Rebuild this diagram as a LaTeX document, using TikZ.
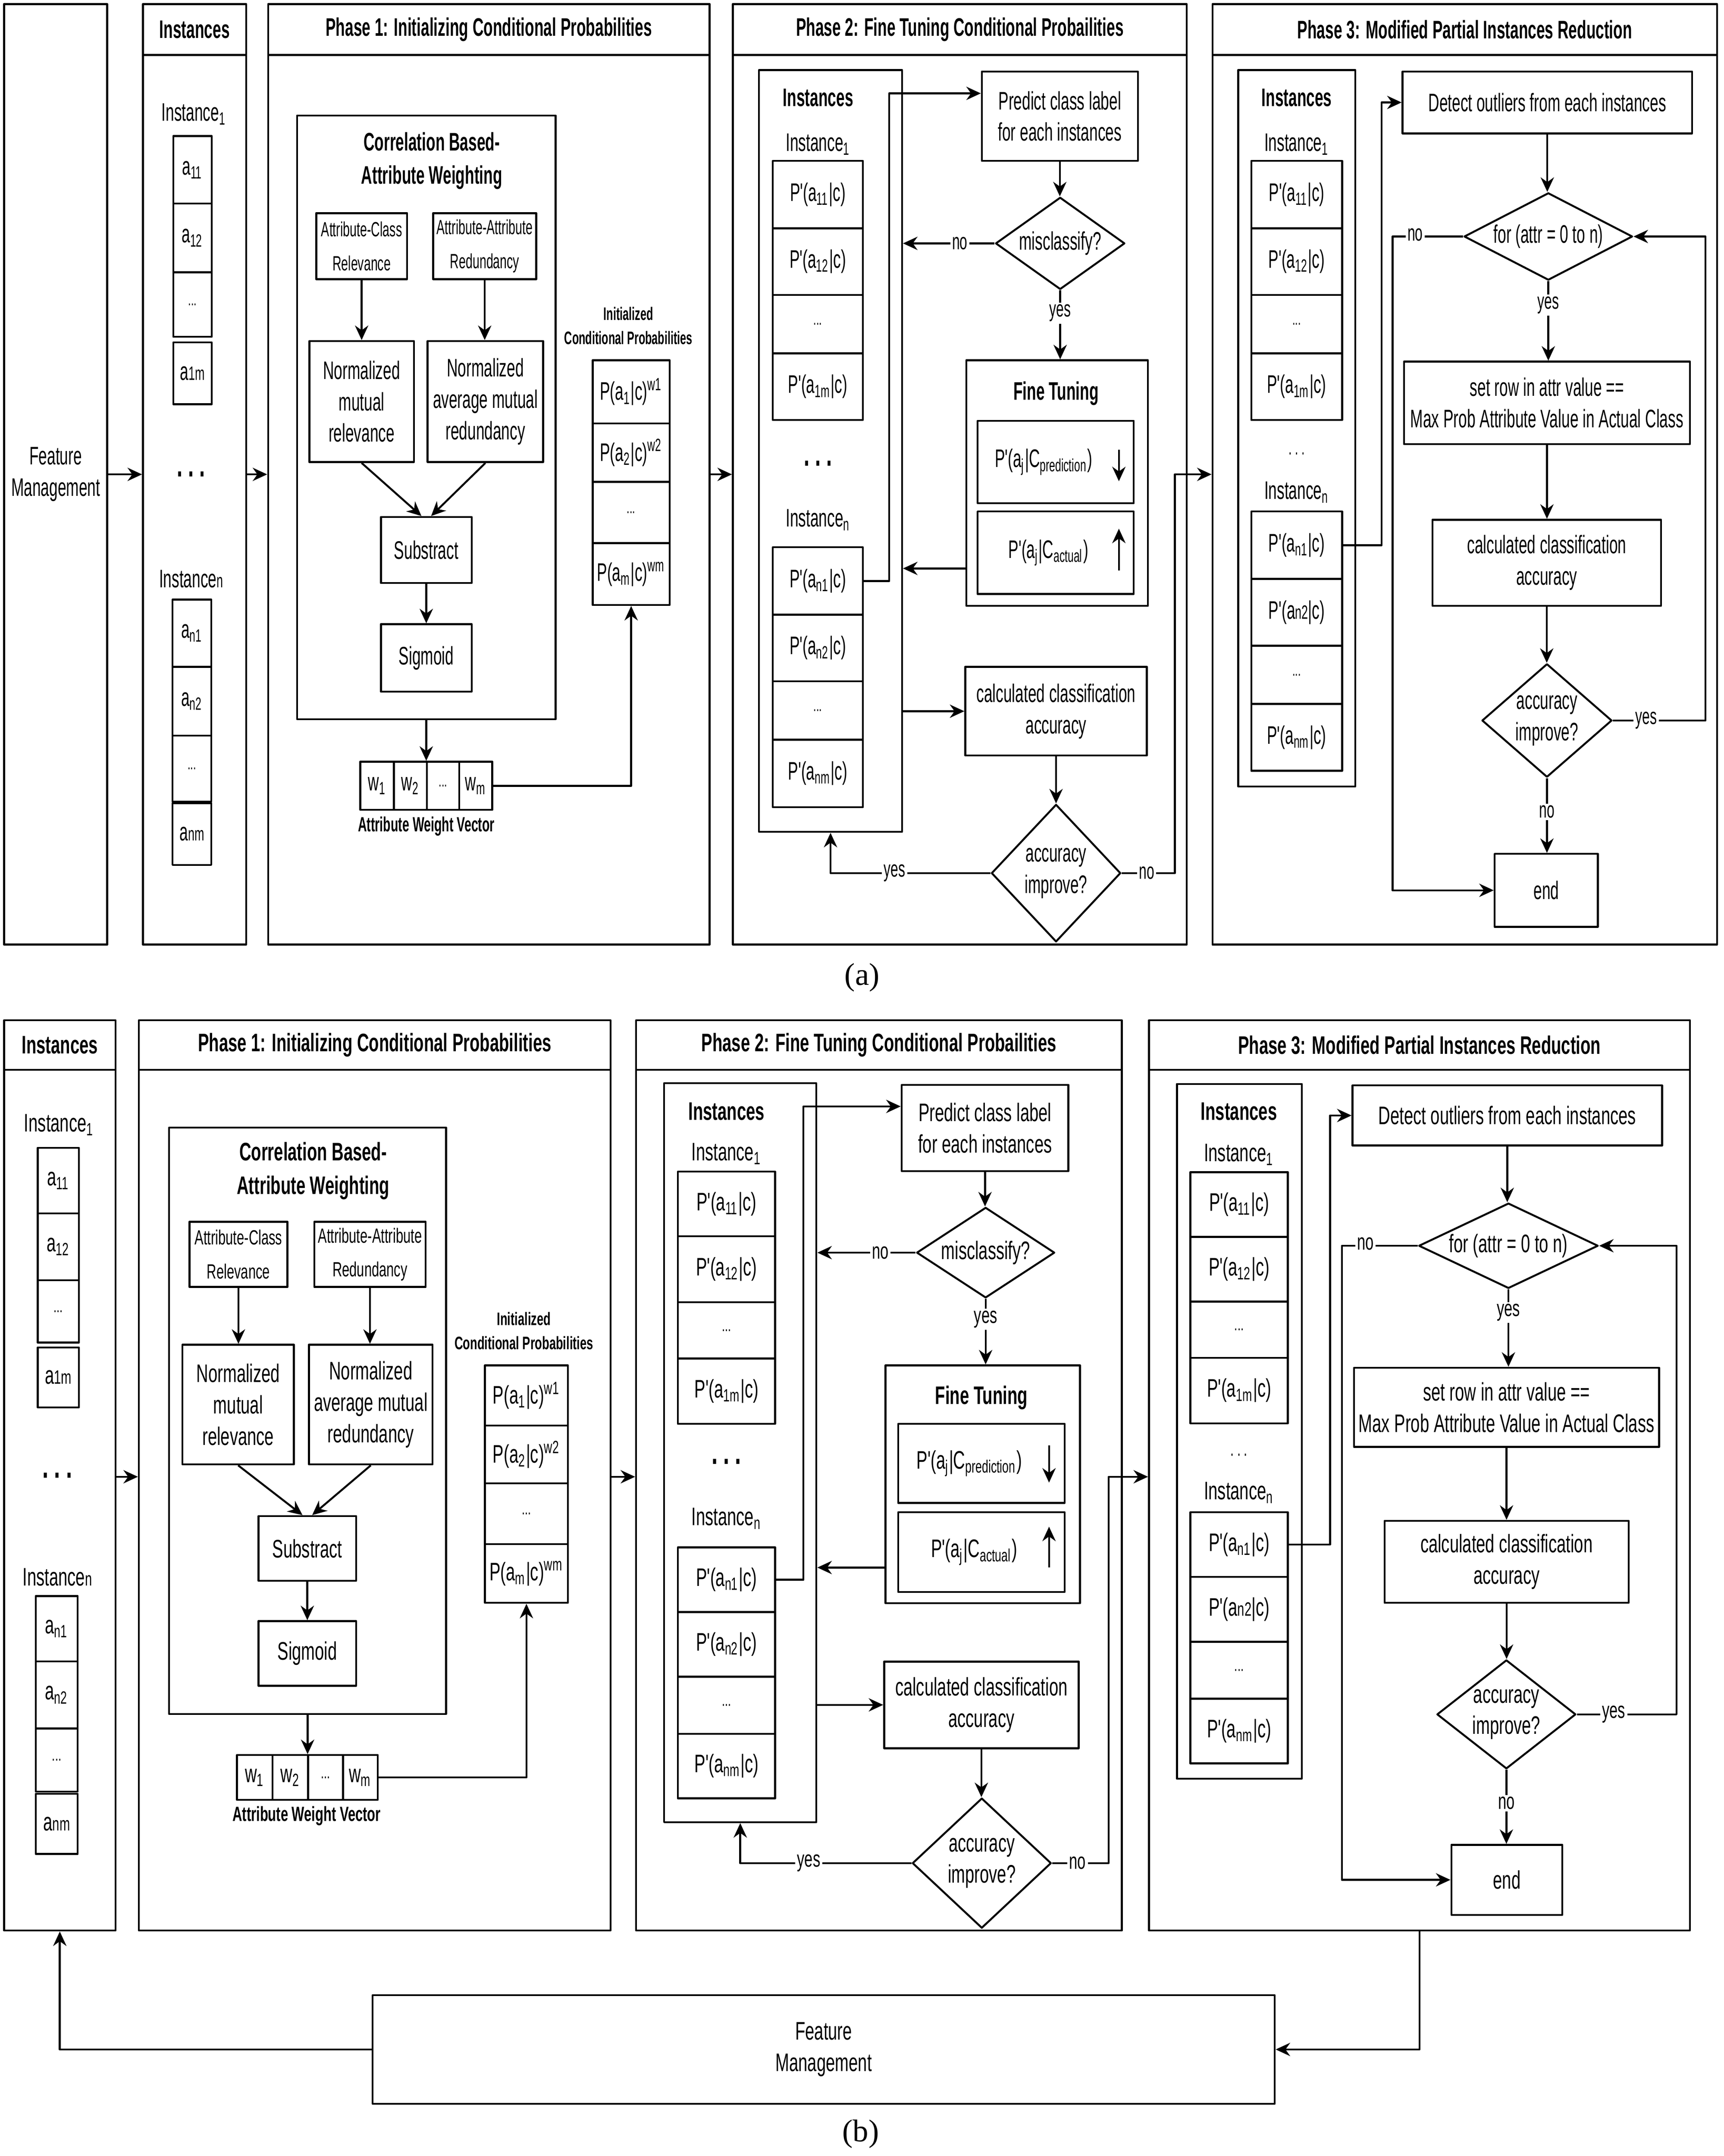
\documentclass[tikz,border=0pt]{standalone}
\usepackage{fontspec}
\setmainfont[FakeStretch=0.6]{Liberation Sans}
\newfontfamily\narrowsans[FakeStretch=0.6]{Liberation Sans}
\newfontfamily\widesans[FakeStretch=0.65]{Liberation Sans}
\newfontfamily\capfont{Liberation Serif}
\newcommand{\partfamily}{\narrowsans}
\usetikzlibrary{shapes.geometric,arrows.meta,calc}

\tikzset{
  box/.style={draw, line width=0.8pt, inner sep=0pt, align=center},
  dia/.style={draw, diamond, line width=0.8pt, inner sep=0pt},
  arr/.style={-{Stealth[length=6pt,width=5.5pt]}, line width=0.8pt},
  ttl/.style={font=\partfamily\fontsize{10.5}{13.8}\selectfont\bfseries, align=center},
  tiny/.style={font=\partfamily\fontsize{8.5}{14}\selectfont},
  yn/.style={fill=white, inner sep=0.8pt, font=\partfamily\fontsize{9.5}{11}\selectfont},
}
% box from (x1,y1) to (x2,y2), picture units
\newcommand{\bx}[7][]{\node[box,#1,minimum width={(#5-#3)*0.02cm},minimum height={(#6-#4)*0.02cm}] (#2) at ({(#3+#5)/2},{(#4+#6)/2}) {#7};}
% diamond at (cx,cy) of width w and height h
\newcommand{\dm}[6]{\node[dia,minimum width={#4*0.02cm},minimum height={#5*0.02cm},label={[align=center]center:{#6}}] (#1) at (#2,#3) {};}
\newcommand{\etc}{{\fontsize{7}{8}\selectfont ...}}
\newcommand{\bigdots}{{\fontsize{14}{14}\selectfont\bfseries .\,.\,.}}
\newcommand{\smallidx}[1]{{\footnotesize #1}}

\begin{document}
\begin{tikzpicture}[x=0.02cm, y=-0.02cm, font=\partfamily\fontsize{10.5}{13}\selectfont, line join=round]
\useasboundingbox (0,0) rectangle (1253.5,1568);

% ---------------- (a) ----------------
\bx{aFM}{3}{3}{78}{687}{Feature\\Management}
\bx{aIh}{104}{3}{179}{40}{\bfseries Instances}
\bx{aI}{104}{40}{179}{687}{}
\draw[arr] (aFM.east) -- (aFM.east -| aI.west);
\node (aI1) at (141,83) {Instance\textsubscript{1}};
\bx{aa11}{126}{99}{154}{148}{a\textsubscript{11}}
\bx{aa12}{126}{148}{154}{198}{a\textsubscript{12}}
\bx{aa1d}{126}{198}{154}{245}{\etc}
\bx{aa1m}{126}{249}{154}{294}{a\smallidx{1m}}
\node (aIdots) at (139,345) {\bigdots};
\node (aIn) at (139,421) {Instance\smallidx{n}};
\bx{aan1}{125.5}{436}{153.6}{485}{a\textsubscript{n1}}
\bx{aan2}{125.5}{485}{153.6}{535}{a\textsubscript{n2}}
\bx{aand}{125.5}{535}{153.6}{583}{\etc}
\bx{aanm}{125.5}{584}{153.6}{629}{a\smallidx{nm}}

% phase 1
\bx{a1h}{195}{3}{516}{40}{\bfseries Phase 1: Initializing Conditional Probabilities}
\bx{a1}{195}{40}{516}{687}{}
\draw[arr] (aFM.east -| aI.east) -- (aFM.east -| a1.west);
\bx{aCorr}{216}{84}{404}{523}{}
\node[ttl] (aCorrT) at (314,117) {Correlation Based-\\Attribute Weighting};
\bx[tiny]{aACR}{230}{155}{296}{203}{Attribute-Class\\Relevance}
\bx[tiny]{aAAR}{315}{155}{390}{203}{Attribute-Attribute\\Redundancy}
\bx{aNMR}{225}{248}{301}{336}{Normalized\\mutual\\relevance}
\bx{aNAR}{311}{248}{395}{336}{Normalized\\average mutual\\redundancy}
\bx{aSub}{277}{376}{343}{424}{Substract}
\bx{aSig}{277}{454}{343}{503}{Sigmoid}
\draw[arr] (aACR.south) -- (aACR.south |- aNMR.north);
\draw[arr] (aAAR.south) -- (aAAR.south |- aNAR.north);
\draw[arr] (aNMR.south) -- ([xshift=-2pt]aSub.north);
\draw[arr] (aNAR.south) -- ([xshift=2pt]aSub.north);
\draw[arr] (aSub) -- (aSig);
\bx{aw1}{262}{554}{286.5}{589}{w\textsubscript{1}}
\bx{aw2}{286.5}{554}{310.5}{589}{w\textsubscript{2}}
\bx{awd}{310.5}{554}{334}{589}{\etc}
\bx{awm}{334}{554}{358}{589}{w\textsubscript{m}}
\draw[arr] (aCorr.south) -- (aCorr.south |- aw2.north);
\node[font=\partfamily\fontsize{8.5}{10}\selectfont\bfseries] (awT) at (310,601) {Attribute Weight Vector};
\node[font=\partfamily\fontsize{7.5}{10}\selectfont\bfseries, align=center] (apT) at (457,237) {Initialized\\Conditional Probabilities};
\bx{ap1}{431}{262}{487}{308}{P(a\textsubscript{1}|c)\textsuperscript{w1}}
\bx{ap2}{431}{308}{487}{350.5}{P(a\textsubscript{2}|c)\textsuperscript{w2}}
\bx{apd}{431}{350.5}{487}{395}{\etc}
\bx{apm}{431}{395}{487}{440}{P(a\textsubscript{m}|c)\textsuperscript{wm}}
\draw[arr] (awm.east) -| (apm.south);

% phase 2
\bx{a2h}{533}{3}{863}{40}{\bfseries Phase 2: Fine Tuning Conditional Probailities}
\bx{a2}{533}{40}{863}{687}{}
\draw[arr] (aFM.east -| a1.east) -- (aFM.east -| a2.west);
\bx{a2I}{552}{51}{656}{605}{}
\node[ttl] (a2IT) at (595,71) {Instances};
\node (a2I1) at (595,105) {Instance\textsubscript{1}};
\bx{a2c11}{562}{117}{627.5}{166}{P'(a\textsubscript{11}|c)}
\bx{a2c12}{562}{166}{627.5}{214.5}{P'(a\textsubscript{12}|c)}
\bx{a2c1d}{562}{214.5}{627.5}{257}{\etc}
\bx{a2c1m}{562}{257}{627.5}{305.5}{P'(a\textsubscript{1m}|c)}
\node (a2dots) at (595,337) {\bigdots};
\node (a2In) at (595,378) {Instance\textsubscript{n}};
\bx{a2cn1}{562}{398}{627.5}{447}{P'(a\textsubscript{n1}|c)}
\bx{a2cn2}{562}{447}{627.5}{495.5}{P'(a\textsubscript{n2}|c)}
\bx{a2cnd}{562}{495.5}{627.5}{538}{\etc}
\bx{a2cnm}{562}{538}{627.5}{587}{P'(a\textsubscript{nm}|c)}
\bx{a2pr}{714}{52}{827.5}{117}{Predict class label\\for each instances}
\draw[arr] (a2cn1.east) -- ++(18.5,0) |- ($(a2pr.north west)!0.25!(a2pr.south west)$);
\dm{a2mis}{771}{177}{94}{67}{misclassify?}
\draw[arr] (a2pr.south) -- (a2pr.south |- a2mis.north);
\draw[arr] (a2mis.west) -- node[yn, pos=0.38]{no} (a2mis.west -| a2I.east);
\bx{a2ft}{702.7}{262}{834.8}{440.6}{}
\node[ttl] (a2ftT) at (768,286) {Fine Tuning};
\bx{a2fp}{711}{306}{824.5}{366}{P'(a\textsubscript{j}|C\textsubscript{prediction})\hspace{10pt}}
\bx{a2fa}{711}{372}{824.5}{432}{P'(a\textsubscript{j}|C\textsubscript{actual})\hspace{6pt}}
\draw[arr] ($(a2fp.east)+(-11.5,-9)$) -- ($(a2fp.east)+(-11.5,14)$);
\draw[arr] ($(a2fa.east)+(-11.5,13)$) -- ($(a2fa.east)+(-11.5,-17.5)$);
\draw[arr] (a2mis.south) -- node[yn, pos=0.33]{yes} (a2mis.south |- a2ft.north);
\coordinate (a2fl) at ($(a2ft.north west)!0.845!(a2ft.south west)$);
\draw[arr] (a2fl) -- (a2fl -| a2I.east);
\bx{a2ca}{702}{485}{834}{549.5}{calculated classification\\accuracy}
\draw[arr] (a2ca.west -| a2I.east) -- (a2ca.west);
\dm{a2acc}{768}{635}{94}{100}{accuracy\\improve?}
\draw[arr] (a2ca.south) -- (a2ca.south |- a2acc.north);
\draw[arr] (a2acc.west) -| node[yn, pos=0.3]{yes} (a2I.south);

% phase 3
\bx{a3h}{881.8}{3}{1248.7}{40}{\bfseries Phase 3: Modified Partial Instances Reduction}
\bx{a3}{881.8}{40}{1248.7}{687}{}
\draw[arr] (a2acc.east) -- node[yn, pos=0.47]{no} ++(38.7,0) |- (aFM.east -| a3.west);
\bx{a3I}{900.5}{51}{985.6}{572}{}
\node[ttl] (a3IT) at (943,71) {Instances};
\node (a3I1) at (943,105) {Instance\textsubscript{1}};
\bx{a3c11}{910}{117}{976}{166}{P'(a\textsubscript{11}|c)}
\bx{a3c12}{910}{166}{976}{214.5}{P'(a\textsubscript{12}|c)}
\bx{a3c1d}{910}{214.5}{976}{257}{\etc}
\bx{a3c1m}{910}{257}{976}{305.5}{P'(a\textsubscript{1m}|c)}
\node[font=\partfamily\footnotesize] (a3dots) at (943,330) {.\,.\,.};
\node (a3In) at (943,358) {Instance\textsubscript{n}};
\bx{a3cn1}{910}{372}{976}{421}{P'(a\textsubscript{n1}|c)}
\bx{a3cn2}{910}{421}{976}{469.6}{P'(a\smallidx{n2}|c)}
\bx{a3cnd}{910}{469.6}{976}{512}{\etc}
\bx{a3cnm}{910}{512}{976}{560.6}{P'(a\textsubscript{nm}|c)}
\bx{a3de}{1020}{52}{1230.5}{97}{Detect outliers from each instances}
\draw[arr] (a3cn1.east) -- ++(28,0) |- (a3de.west);
\dm{a3for}{1126}{172}{122.5}{63.5}{for (attr = 0 to n)}
\draw[arr] (a3de.south) -- (a3de.south |- a3for.north);
\bx{a3set}{1021}{263}{1229}{323}{set row in attr value ==\\Max Prob Attribute Value in Actual Class}
\draw[arr] (a3for.south) -- node[yn, pos=0.3]{yes} (a3for.south |- a3set.north);
\bx{a3ca}{1041.7}{378}{1208}{440.6}{calculated classification\\accuracy}
\draw[arr] (a3set.south) -- (a3set.south |- a3ca.north);
\dm{a3acc}{1125}{524}{94.5}{82.5}{accuracy\\improve?}
\draw[arr] (a3ca.south) -- (a3ca.south |- a3acc.north);
\bx{a3end}{1087}{621}{1162}{674}{end}
\draw[arr] (a3acc.south) -- node[yn, pos=0.45]{no} (a3acc.south |- a3end.north);
\draw[arr] (a3acc.east) -- node[yn, pos=0.36]{yes} ++(67.3,0) |- (a3for.east);
\draw[arr] (a3for.west) -- node[yn, pos=0.68, anchor=south, yshift=-3pt]{no} ++(-51.3,0) |- (a3end.west);

\node[font=\capfont\fontsize{13}{15}\selectfont] (acap) at (627,711) {(a)};

% ---------------- (b) ----------------
\begin{scope}
\renewcommand{\partfamily}{\widesans}
\coordinate (bmid) at (0,1074);
\bx{bIh}{3}{742}{84}{778}{\bfseries Instances}
\bx{bI}{3}{778}{84}{1404}{}
\node (bI1) at (43,818) {Instance\textsubscript{1}};
\bx{ba11}{27.4}{834.8}{57.4}{882.4}{a\textsubscript{11}}
\bx{ba12}{27.4}{882.4}{57.4}{931}{a\textsubscript{12}}
\bx{ba1d}{27.4}{931}{57.4}{976.4}{\etc}
\bx{ba1m}{27.4}{980}{57.4}{1023.5}{a\smallidx{1m}}
\node (bIdots) at (41.7,1073) {\bigdots};
\node (bIn) at (41.7,1147) {Instance\smallidx{n}};
\bx{ban1}{26}{1160.7}{56.5}{1208.3}{a\textsubscript{n1}}
\bx{ban2}{26}{1208.3}{56.5}{1257}{a\textsubscript{n2}}
\bx{band}{26}{1257}{56.5}{1303}{\etc}
\bx{banm}{26}{1304.6}{56.5}{1348.3}{a\smallidx{nm}}

% phase 1
\bx{b1h}{101}{742}{444}{778}{\bfseries Phase 1: Initializing Conditional Probabilities}
\bx{b1}{101}{778}{444}{1404}{}
\draw[arr] (bmid -| bI.east) -- (bmid -| b1.west);
\bx{bCorr}{123}{820}{324.4}{1246.5}{}
\node[ttl] (bCorrT) at (227.7,851.5) {Correlation Based-\\Attribute Weighting};
\bx[tiny]{bACR}{137.8}{888.5}{209}{936}{Attribute-Class\\Relevance}
\bx[tiny]{bAAR}{228.6}{888.5}{309.5}{936}{Attribute-Attribute\\Redundancy}
\bx{bNMR}{132.7}{978}{213.7}{1065}{Normalized\\mutual\\relevance}
\bx{bNAR}{224.7}{978}{314.6}{1065}{Normalized\\average mutual\\redundancy}
\bx{bSub}{188}{1102.6}{259}{1149.7}{Substract}
\bx{bSig}{188}{1179}{259}{1226}{Sigmoid}
\draw[arr] (bACR.south) -- (bACR.south |- bNMR.north);
\draw[arr] (bAAR.south) -- (bAAR.south |- bNAR.north);
\draw[arr] (bNMR.south) -- ([xshift=-2pt]bSub.north);
\draw[arr] (bNAR.south) -- ([xshift=2pt]bSub.north);
\draw[arr] (bSub) -- (bSig);
\bx{bw1}{172.3}{1276.4}{198.2}{1309}{w\textsubscript{1}}
\bx{bw2}{198.2}{1276.4}{224}{1309}{w\textsubscript{2}}
\bx{bwd}{224}{1276.4}{249.4}{1309}{\etc}
\bx{bwm}{249.4}{1276.4}{274.7}{1309}{w\textsubscript{m}}
\draw[arr] (bCorr.south) -- (bCorr.south |- bw2.north);
\node[font=\partfamily\fontsize{8.5}{10}\selectfont\bfseries] (bwT) at (223,1320.7) {Attribute Weight Vector};
\node[font=\partfamily\fontsize{7.5}{10}\selectfont\bfseries, align=center] (bpT) at (381,968) {Initialized\\Conditional Probabilities};
\bx{bp1}{352.7}{993}{413}{1036.8}{P(a\textsubscript{1}|c)\textsuperscript{w1}}
\bx{bp2}{352.7}{1036.8}{413}{1078.8}{P(a\textsubscript{2}|c)\textsuperscript{w2}}
\bx{bpd}{352.7}{1078.8}{413}{1123}{\etc}
\bx{bpm}{352.7}{1123}{413}{1165.7}{P(a\textsubscript{m}|c)\textsuperscript{wm}}
\draw[arr] (bwm.east) -| (bpm.south);

% phase 2
\bx{b2h}{462.6}{742}{815.8}{778}{\bfseries Phase 2: Fine Tuning Conditional Probailities}
\bx{b2}{462.6}{778}{815.8}{1404}{}
\draw[arr] (bmid -| b1.east) -- (bmid -| b2.west);
\bx{b2I}{483}{787.8}{593.7}{1325.2}{}
\node[ttl] (b2IT) at (528.3,808.3) {Instances};
\node (b2I1) at (528.3,839) {Instance\textsubscript{1}};
\bx{b2c11}{493}{852.1}{563.7}{899.1}{P'(a\textsubscript{11}|c)}
\bx{b2c12}{493}{899.1}{563.7}{947}{P'(a\textsubscript{12}|c)}
\bx{b2c1d}{493}{947}{563.7}{988}{\etc}
\bx{b2c1m}{493}{988}{563.7}{1035.5}{P'(a\textsubscript{1m}|c)}
\node (b2dots) at (528.3,1063) {\bigdots};
\node (b2In) at (528.3,1104.4) {Instance\textsubscript{n}};
\bx{b2cn1}{493}{1125.4}{563.7}{1172.4}{P'(a\textsubscript{n1}|c)}
\bx{b2cn2}{493}{1172.4}{563.7}{1219.4}{P'(a\textsubscript{n2}|c)}
\bx{b2cnd}{493}{1219.4}{563.7}{1260.9}{\etc}
\bx{b2cnm}{493}{1260.9}{563.7}{1307.9}{P'(a\textsubscript{nm}|c)}
\bx{b2pr}{655.7}{789}{777}{851.7}{Predict class label\\for each instances}
\draw[arr] (b2cn1.east) -- ++(19.9,0) |- ($(b2pr.north west)!0.255!(b2pr.south west)$);
\dm{b2mis}{716.8}{911}{100.4}{65.8}{misclassify?}
\draw[arr] (b2pr.south) -- (b2pr.south |- b2mis.north);
\draw[arr] (b2mis.west) -- node[yn, pos=0.36]{no} (b2mis.west -| b2I.east);
\bx{b2ft}{644}{993}{785.4}{1166}{}
\node[ttl] (b2ftT) at (713.7,1016.4) {Fine Tuning};
\bx{b2fp}{653.2}{1035.5}{774.2}{1093}{P'(a\textsubscript{j}|C\textsubscript{prediction})\hspace{10pt}}
\bx{b2fa}{653.2}{1099.8}{774.2}{1157.8}{P'(a\textsubscript{j}|C\textsubscript{actual})\hspace{6pt}}
\draw[arr] ($(b2fp.east)+(-12,-13)$) -- ($(b2fp.east)+(-12,14)$);
\draw[arr] ($(b2fa.east)+(-12,11)$) -- ($(b2fa.east)+(-12,-18.5)$);
\draw[arr] (b2mis.south) -- node[yn, pos=0.31]{yes} (b2mis.south |- b2ft.north);
\coordinate (b2fl) at ($(b2ft.north west)!0.847!(b2ft.south west)$);
\draw[arr] (b2fl) -- (b2fl -| b2I.east);
\bx{b2ca}{643}{1208.4}{784.4}{1271.4}{calculated classification\\accuracy}
\draw[arr] (b2ca.west -| b2I.east) -- (b2ca.west);
\dm{b2acc}{714}{1355}{101}{94.6}{accuracy\\improve?}
\draw[arr] (b2ca.south) -- (b2ca.south |- b2acc.north);
\draw[arr] (b2acc.west) -| node[yn, pos=0.3]{yes} (b2I.south);

% phase 3
\bx{b3h}{835.6}{742}{1229}{778}{\bfseries Phase 3: Modified Partial Instances Reduction}
\bx{b3}{835.6}{778}{1229}{1404}{}
\draw[arr] (b2acc.east) -- node[yn, pos=0.45]{no} ++(41,0) |- (bmid -| b3.west);
\bx{b3I}{855.9}{788.3}{946.7}{1293.6}{}
\node[ttl] (b3IT) at (901,808.2) {Instances};
\node (b3I1) at (901,839.8) {Instance\textsubscript{1}};
\bx{b3c11}{865.7}{852.5}{936.6}{899.5}{P'(a\textsubscript{11}|c)}
\bx{b3c12}{865.7}{899.5}{936.6}{946.6}{P'(a\textsubscript{12}|c)}
\bx{b3c1d}{865.7}{946.6}{936.6}{987.5}{\etc}
\bx{b3c1m}{865.7}{987.5}{936.6}{1035.1}{P'(a\textsubscript{1m}|c)}
\node[font=\partfamily\footnotesize] (b3dots) at (901,1058) {.\,.\,.};
\node (b3In) at (901,1085.5) {Instance\textsubscript{n}};
\bx{b3cn1}{865.7}{1099.8}{936.6}{1146.9}{P'(a\textsubscript{n1}|c)}
\bx{b3cn2}{865.7}{1146.9}{936.6}{1194}{P'(a\smallidx{n2}|c)}
\bx{b3cnd}{865.7}{1194}{936.6}{1235.4}{\etc}
\bx{b3cnm}{865.7}{1235.4}{936.6}{1282.5}{P'(a\textsubscript{nm}|c)}
\bx{b3de}{983.6}{789.4}{1208.7}{833.1}{Detect outliers from each instances}
\draw[arr] (b3cn1.east) -- ++(30,0) |- (b3de.west);
\dm{b3for}{1097}{906}{130.5}{62}{for (attr = 0 to n)}
\draw[arr] (b3de.south) -- (b3de.south |- b3for.north);
\bx{b3set}{984.7}{994.7}{1206.5}{1052.3}{set row in attr value ==\\Max Prob Attribute Value in Actual Class}
\draw[arr] (b3for.south) -- node[yn, pos=0.3]{yes} (b3for.south |- b3set.north);
\bx{b3ca}{1006.9}{1106}{1184.4}{1165.7}{calculated classification\\accuracy}
\draw[arr] (b3set.south) -- (b3set.south |- b3ca.north);
\dm{b3acc}{1095.5}{1246.8}{101}{79.2}{accuracy\\improve?}
\draw[arr] (b3ca.south) -- (b3ca.south |- b3acc.north);
\bx{b3end}{1055.5}{1341.7}{1136.2}{1392.6}{end}
\draw[arr] (b3acc.south) -- node[yn, pos=0.45]{no} (b3acc.south |- b3end.north);
\draw[arr] (b3acc.east) -- node[yn, pos=0.37]{yes} ++(72.5,0) |- (b3for.east);
\draw[arr] (b3for.west) -- node[yn, pos=0.69, anchor=south, yshift=-3pt]{no} ++(-55.2,0) |- (b3end.west);

% feature management loop
\bx{bFM}{271}{1451}{927}{1530}{Feature\\Management}
\draw[arr] (bFM.west) -| (bI.south);
\draw[arr] (b3.south) |- (bFM.east);
\end{scope}

\node[font=\capfont\fontsize{13}{15}\selectfont] (bcap) at (626,1552) {(b)};
\end{tikzpicture}
\end{document}
